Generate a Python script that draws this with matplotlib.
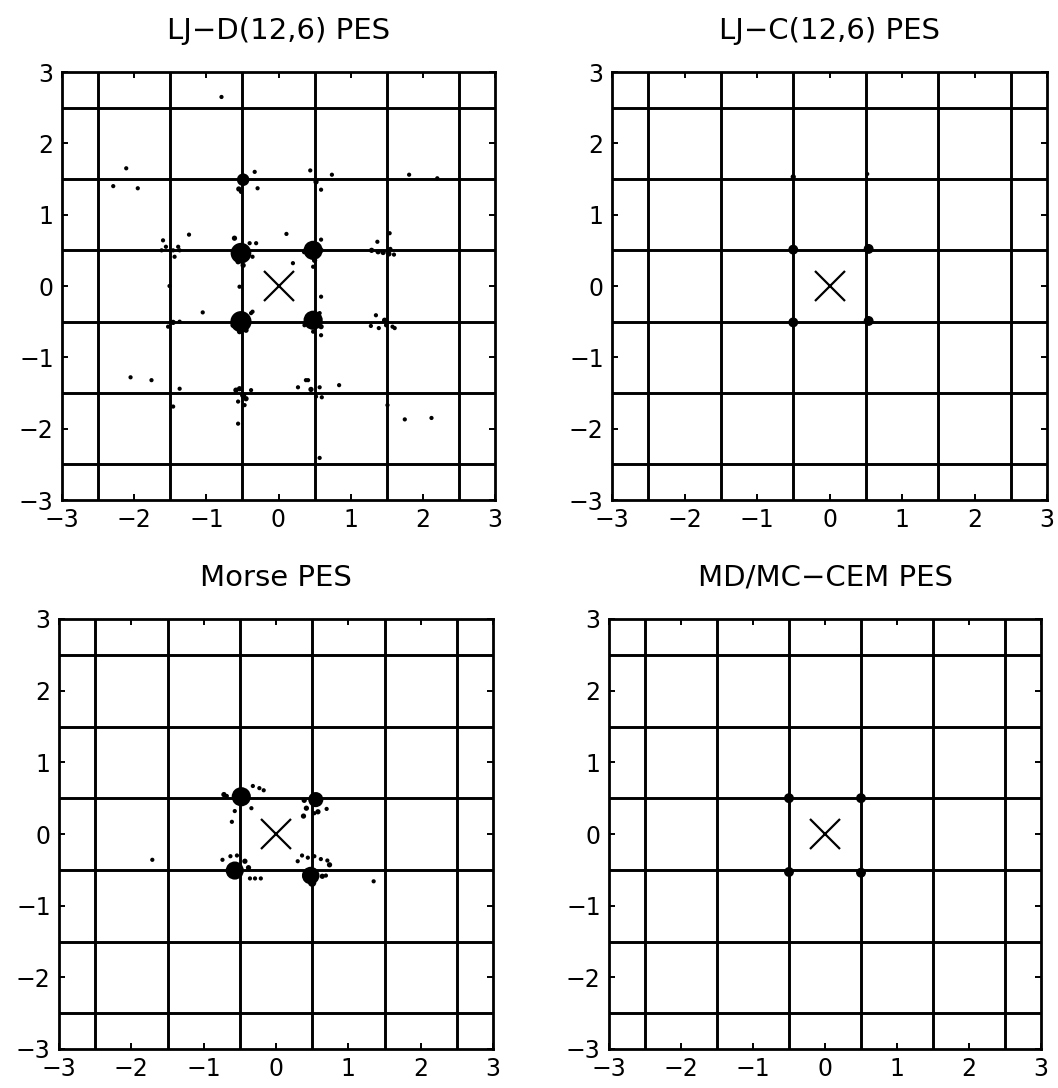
import matplotlib
matplotlib.use("Agg")
import matplotlib.pyplot as plt
import numpy as np

plt.rcParams['font.family'] = ['DejaVu Sans']

# ---- data -------------------------------------------------------------
titles = ["LJ\u2212D(12,6) PES", "LJ\u2212C(12,6) PES", "Morse PES", "MD/MC\u2212CEM PES"]
tick_values = [-3, -2, -1, 0, 1, 2, 3]
tick_labels = ["\u22123", "\u22122", "\u22121", "0", "1", "2", "3"]
lattice_lines = [-2.5, -1.5, -0.5, 0.5, 1.5, 2.5]
adatom_site = (0.0, 0.0)

# LJ-D(12,6): projected atom positions (x, y) and how many samples pile up there
ljd_x = [-0.52, 0.48, -0.52, 0.48, -0.49, 0.52,
         -0.61, -0.40, -0.56, -0.36, -0.49,
         0.59, 0.36, 0.50, 0.60,
         -0.63, -0.38, -0.54, -0.45, -0.59,
         0.36, 0.59, 0.48, 0.57,
         -0.55, -0.52,
         -1.62, -1.56, -1.46, -1.44, -1.39, -1.37,
         1.29, 1.38, 1.45, 1.53, 1.60, 1.55,
         -1.53, -1.46, -1.37,
         1.28, 1.39, 1.47, 1.49, 1.58, 1.61, 1.35,
         -0.59, -0.54, -0.49, -0.45, -0.56, -0.47, -0.38,
         0.41, 0.45, 0.57, 0.60, 0.52,
         -0.33, 0.44, 0.74, 1.81, -0.29, 0.59, -1.24, 0.11, -1.60, 1.54,
         1.37, 0.20, -0.31, 0.48, 0.59, -0.54, -1.05, -0.36, 0.59, -1.76,
         -1.37, 0.84, 0.27, 0.38, -1.46, 1.75, -0.56, -1.51,
         -0.79, -2.11, -2.29, -1.95, 2.20, 1.51, 2.12, 0.57, -2.05]
ljd_y = [0.46, 0.50, -0.50, -0.48, 1.49, 1.46,
         0.67, 0.60, 0.34, 0.41, 0.29,
         0.65, 0.48, 0.36, 0.50,
         -0.55, -0.38, -0.64, -0.62, -0.43,
         -0.55, -0.57, -0.64, -0.38,
         1.36, 1.32,
         0.50, 0.55, 0.50, 0.41, 0.55, 0.50,
         0.50, 0.48, 0.47, 0.45, 0.44, 0.52,
         -0.57, -0.51, -0.50,
         -0.56, -0.59, -0.48, -0.55, -0.57, -0.59, -0.41,
         -1.46, -1.44, -1.53, -1.58, -1.62, -1.67, -1.46,
         -1.32, -1.45, -1.42, -1.56, -1.55,
         1.60, 1.62, 1.56, 1.56, 1.37, 1.35, 0.72, 0.73, 0.64, 0.74,
         0.62, 0.32, 0.60, 0.27, -0.15, -0.01, -0.37, -0.36, -0.69, -1.32,
         -1.44, -1.39, -1.42, -1.32, -1.69, -1.87, -1.93, 0.00,
         2.65, 1.65, 1.40, 1.37, 1.51, -1.67, -1.85, -2.41, -1.28]
ljd_n = [42, 36, 44, 36, 15, 2,
         2, 1, 2, 1, 2,
         1, 2, 2, 1,
         2, 1, 2, 2, 2,
         1, 2, 1, 1,
         2, 1,
         1, 1, 1, 1, 1, 1,
         2, 2, 2, 2, 1, 1,
         1, 2, 1,
         1, 1, 2, 1, 1, 1, 1,
         2, 2, 3, 2, 1, 1, 1,
         1, 2, 1, 1, 1,
         1, 1, 1, 1, 1, 1, 1, 1, 1, 1,
         1, 1, 1, 1, 1, 1, 1, 1, 1, 1,
         1, 1, 1, 1, 1, 1, 1, 1,
         1, 1, 1, 1, 1, 1, 1, 1, 1]

# LJ-C(12,6)
ljc_x = [-0.50, 0.54, -0.50, 0.54, -0.50, 0.52]
ljc_y = [0.51, 0.52, -0.51, -0.49, 1.53, 1.57]
ljc_n = [9, 9, 9, 9, 2, 1]

# Morse
morse_x = [-0.48, 0.55, -0.57, 0.48,
           -0.32, -0.23, -0.17, -0.72, -0.68, -0.34, -0.57, -0.61,
           0.39, 0.42, 0.38, 0.53, 0.70, 0.58,
           -0.74, -0.63, -0.54, -0.43, -0.38, -0.36, -0.29, -0.21,
           0.36, 0.44, 0.53, 0.62, 0.71, 0.74, 0.30, 0.64, 0.69,
           0.50, 1.35, -1.71]
morse_y = [0.52, 0.48, -0.51, -0.58,
           0.67, 0.64, 0.61, 0.55, 0.53, 0.36, 0.32, 0.17,
           0.47, 0.36, 0.25, 0.29, 0.35, 0.31,
           -0.36, -0.31, -0.30, -0.38, -0.47, -0.62, -0.62, -0.62,
           -0.30, -0.33, -0.31, -0.35, -0.37, -0.43, -0.38, -0.59, -0.58,
           -0.68, -0.66, -0.36]
morse_n = [36, 22, 32, 30,
           1, 1, 1, 2, 1, 1, 1, 1,
           2, 2, 2, 1, 1, 2,
           1, 1, 1, 2, 2, 1, 1, 1,
           1, 1, 1, 1, 1, 2, 1, 2, 1,
           6, 1, 1]

# MD/MC-CEM
cem_x = [-0.50, 0.50, -0.50, 0.50]
cem_y = [0.50, 0.50, -0.53, -0.54]
cem_n = [9, 9, 9, 9]

panels = [
    (titles[0], ljd_x, ljd_y, ljd_n),
    (titles[1], ljc_x, ljc_y, ljc_n),
    (titles[2], morse_x, morse_y, morse_n),
    (titles[3], cem_x, cem_y, cem_n),
]

# ---- layout ----------------------------------------------------------
W, H = 1058, 1088
boxes_px = [  # left, top, right, bottom in pixels
    (62, 72, 495, 500),
    (612, 72, 1047, 500),
    (59, 619, 493, 1049),
    (609, 619, 1041, 1049),
]

fig = plt.figure(figsize=(W / 100, H / 100), dpi=100)
fig.patch.set_facecolor("white")

for (title, xs, ys, ns), (l, t, r, b) in zip(panels, boxes_px):
    ax = fig.add_axes([l / W, (H - b) / H, (r - l) / W, (b - t) / H])
    ax.set_xlim(-3, 3)
    ax.set_ylim(-3, 3)

    # lattice rows and columns
    ax.set_xticks(lattice_lines, minor=True)
    ax.set_yticks(lattice_lines, minor=True)
    ax.grid(True, which="minor", color="black", linewidth=2.1)
    ax.grid(False, which="major")
    ax.set_axisbelow(True)

    ax.set_xticks(tick_values)
    ax.set_xticklabels(tick_labels)
    ax.set_yticks(tick_values)
    ax.set_yticklabels(tick_labels)
    ax.tick_params(which="major", direction="in", length=4.5, width=1.4,
                   top=True, right=True, labelsize=17, pad=6, colors="black")
    ax.tick_params(which="minor", length=0)
    for sp in ax.spines.values():
        sp.set_linewidth(2.0)
        sp.set_color("black")

    ax.scatter(xs, ys, s=[4.0 + 5.2 * n for n in ns], c="black",
               edgecolors="none", zorder=3)
    ax.plot([adatom_site[0]], [adatom_site[1]], marker="x", markersize=22,
            markeredgewidth=1.6, color="black", linestyle="none", zorder=4)

    ax.set_title(title, fontsize=21, pad=24)

fig.savefig("out.png", dpi=100, facecolor="white")
